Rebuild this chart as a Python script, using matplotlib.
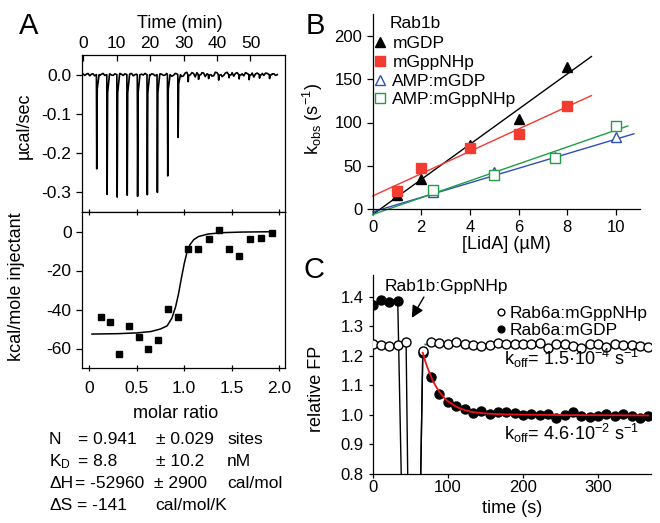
import numpy as np
import matplotlib
matplotlib.use("Agg")
import matplotlib.pyplot as plt

plt.rcParams['font.family'] = ['Liberation Sans', 'DejaVu Sans']
plt.rcParams['mathtext.fontset'] = 'custom'
plt.rcParams['mathtext.rm'] = 'Liberation Sans'
plt.rcParams['mathtext.it'] = 'Liberation Sans:italic'
plt.rcParams['mathtext.bf'] = 'Liberation Sans:bold'
plt.rcParams['mathtext.default'] = 'regular'
plt.rcParams['axes.unicode_minus'] = False
plt.rcParams['axes.linewidth'] = 0.9
plt.rcParams['xtick.major.width'] = 0.9
plt.rcParams['ytick.major.width'] = 0.9

# ---------------- Panel A: ITC raw trace ----------------
# baseline samples at whole minutes and at half minutes
base_t = list(range(0, 59))
base_dp = [0.002, 0.001, -0.003, 0.002, 0.0, -0.002, 0.003, -0.001, 0.002, -0.002,
           0.001, 0.003, -0.002, 0.0, 0.002, -0.003, 0.001, 0.002, -0.001, 0.003,
           -0.002, 0.001, 0.0, 0.002, -0.002, 0.003, 0.001, -0.002, 0.002, 0.004,
           -0.003, 0.006, -0.002, 0.003, 0.005, -0.004, 0.004, 0.002, 0.006, -0.003,
           0.005, 0.003, -0.002, 0.006, 0.002, -0.004, 0.005, 0.004, -0.003, 0.003,
           0.002, -0.006, 0.004, 0.002, -0.002, 0.003, 0.001, 0.002, 0.0]
half_t = [t + 0.5 for t in range(0, 58)]
half_dp = [-0.002, 0.003, 0.001, -0.003, 0.002, 0.001, -0.002, 0.003, -0.001, 0.002,
           -0.003, 0.001, 0.002, -0.002, 0.003, 0.0, -0.002, 0.001, 0.003, -0.002,
           0.002, -0.003, 0.002, 0.001, -0.001, 0.002, -0.004, 0.003, -0.002, -0.005,
           0.004, -0.004, 0.005, -0.006, 0.002, 0.005, -0.005, 0.003, -0.004, 0.006,
           -0.003, -0.005, 0.004, -0.002, 0.005, 0.003, -0.004, 0.002, 0.005, -0.004,
           0.004, 0.002, -0.005, 0.003, 0.004, -0.003, 0.002, -0.002]
inj_t = [4.0, 7.1, 10.1, 13.1, 16.2, 19.1, 22.1, 25.2, 28.3,
         31.3, 34.4, 37.4, 40.4, 43.5, 46.5, 49.5, 52.6, 55.6]
inj_peak = [-0.240, -0.305, -0.312, -0.307, -0.310, -0.306, -0.300, -0.258, -0.160,
            -0.018, -0.012, -0.010, -0.014, -0.008, -0.011, -0.013, -0.009, -0.010]

# ---------------- Panel A: integrated heats ----------------
molar_ratio = [0.12, 0.22, 0.316, 0.418, 0.52, 0.62, 0.723, 0.832, 0.934,
               1.039, 1.144, 1.257, 1.362, 1.474, 1.579, 1.692, 1.807, 1.92]
heat = [-44.1, -46.2, -63.0, -48.7, -54.0, -60.3, -55.7, -39.8, -43.6,
        -8.9, -8.9, -3.9, 0.7, -9.0, -12.8, -3.9, -3.4, -0.7]
fit_ratio = [0.03, 0.3, 0.5, 0.65, 0.75, 0.82, 0.87, 0.91, 0.94, 0.97, 1.0,
             1.03, 1.06, 1.1, 1.15, 1.25, 1.4, 1.6, 1.94]
fit_heat = [-52.6, -52.4, -52.0, -51.3, -50.0, -48.4, -44.5, -38.5, -32.0, -24.0,
            -16.5, -10.5, -6.8, -4.2, -2.6, -1.3, -0.6, -0.3, -0.1]

# ---------------- Panel B: kobs vs LidA ----------------
lida_a = [1, 2, 4, 6, 8]
kobs_mgdp = [17, 35, 74, 104, 164]
kobs_mgppnhp = [21, 48, 71, 86.5, 119]
lida_b = [2.5, 5, 7.5, 10]
kobs_amp_mgdp = [20, 43, 60, 83]
kobs_amp_mgppnhp = [22, 40, 59, 96.5]
fit_mgdp_x, fit_mgdp_y = [0, 9], [-6, 176]
fit_mgppnhp_x, fit_mgppnhp_y = [0, 9], [15.4, 131]
fit_amp_mgdp_x, fit_amp_mgdp_y = [0, 10.75], [-3, 87]
fit_amp_mgppnhp_x, fit_amp_mgppnhp_y = [0, 10.5], [-6, 96]

# ---------------- Panel C: FP dissociation ----------------
t_pre_gdp = [0, 11.1, 22.2, 33.3, 39.5, 62.5, 66.6]
fp_pre_gdp = [1.373, 1.387, 1.382, 1.386, 0.6, 0.6, 1.21]
t_pre_gpp = [0, 11.1, 22.2, 33.3, 44.4, 47.5, 62.5, 66.6]
fp_pre_gpp = [1.240, 1.235, 1.234, 1.235, 1.246, 0.6, 0.6, 1.215]
t_post = [77.7, 88.8, 99.9, 111.0, 122.1, 133.2, 144.3, 155.4, 166.5, 177.6,
          188.7, 199.8, 210.9, 222.0, 233.1, 244.2, 255.3, 266.4, 277.5, 288.6,
          299.7, 310.8, 321.9, 333.0, 344.1, 355.2, 366.3]
fp_post_gdp = [1.128, 1.070, 1.045, 1.030, 1.019, 1.006, 1.013, 1.002, 1.008, 1.008,
               1.006, 1.000, 1.002, 1.000, 1.002, 0.989, 1.000, 1.008, 0.997, 0.994,
               0.997, 1.002, 0.997, 1.002, 0.997, 0.991, 0.997]
fp_post_gpp = [1.248, 1.243, 1.240, 1.248, 1.240, 1.235, 1.234, 1.235, 1.243, 1.240,
               1.240, 1.238, 1.240, 1.243, 1.226, 1.238, 1.238, 1.232, 1.226, 1.238,
               1.240, 1.228, 1.240, 1.235, 1.235, 1.232, 1.230]
fit_gpp_t, fit_gpp_fp = [70, 366], [1.238, 1.229]
fit_gdp_t = [66.6, 70, 75, 80, 85, 90, 95, 100, 110, 120, 130, 140, 155, 170,
             190, 220, 260, 300, 366]
fit_gdp_fp = [1.21, 1.18, 1.145, 1.115, 1.092, 1.073, 1.058, 1.046, 1.029, 1.018,
              1.011, 1.007, 1.004, 1.002, 1.001, 1.0, 0.999, 0.999, 0.998]

W, H = 660, 523


def box(l, t, r, b):
    return [l / W, 1 - b / H, (r - l) / W, (b - t) / H]


fig = plt.figure(figsize=(6.6, 5.23), dpi=100)

# ---- A top: raw heat trace
axA1 = fig.add_axes(box(82, 55, 285, 212))
tr_t, tr_y = [], []
for t, y in zip(base_t + half_t, base_dp + half_dp):
    if any(ti - 0.1 <= t <= ti + 0.8 for ti in inj_t):
        continue
    tr_t.append(t)
    tr_y.append(y)
for ti, d in zip(inj_t, inj_peak):
    tr_t += [ti, ti + 0.1, ti + 0.25, ti + 0.8]
    tr_y += [0.0, d, 0.15 * d, 0.0]
order = np.argsort(tr_t)
axA1.plot(np.array(tr_t)[order], np.array(tr_y)[order], color='black', lw=1.2)
axA1.set_xlim(-0.3, 60.3)
axA1.set_ylim(-0.35, 0.05)
axA1.set_yticks([0.0, -0.1, -0.2, -0.3])
axA1.set_yticklabels(['0.0', '-0.1', '-0.2', '-0.3'])
axA1.set_xticks([0, 10, 20, 30, 40, 50])
axA1.tick_params(axis='x', top=True, bottom=False, labeltop=True, labelbottom=False,
                 direction='in', length=4, pad=3, labelsize=12.5)
axA1.tick_params(axis='y', direction='out', length=4, labelsize=12.5)
axA1.xaxis.set_label_position('top')
axA1.set_xlabel('Time (min)', fontsize=13)
axA1.xaxis.set_label_coords(0.48, 1.17)
axA1.set_ylabel('µcal/sec', fontsize=13)
axA1.yaxis.set_label_coords(-0.241, 0.55)

# ---- A bottom: integrated heats
axA2 = fig.add_axes(box(82, 212, 285, 368))
axA2.plot(molar_ratio, heat, 's', color='black', ms=5)
axA2.plot(fit_ratio, fit_heat, color='black', lw=1.1)
axA2.set_xlim(-0.075, 2.06)
axA2.set_ylim(-70, 10)
axA2.set_xticks([0, 0.5, 1.0, 1.5, 2.0])
axA2.set_xticklabels(['0', '0.5', '1.0', '1.5', '2.0'])
axA2.set_yticks([0, -20, -40, -60])
axA2.tick_params(axis='x', top=True, direction='inout', length=5, pad=7, labelsize=12.5)
axA2.tick_params(axis='y', direction='out', length=4, labelsize=12.5)
axA2.set_xlabel('molar ratio', fontsize=13)
axA2.xaxis.set_label_coords(0.46, -0.235)
axA2.set_ylabel('kcal/mole injectant', fontsize=13)
axA2.yaxis.set_label_coords(-0.281, 0.52)

# ITC fit results
rows_y = [439, 462, 484, 506]
col1 = ['N', 'K$_D$', 'ΔH', 'ΔS']
col2 = ['= 0.941', '= 8.8', '= -52960', '= -141']
col3 = ['± 0.029', '± 10.2', '± 2900', 'cal/mol/K']
col4 = ['sites', 'nM', 'cal/mol', '']
col2_x = [78, 78, 75, 77]
col3_x = [156, 156, 154, 155]
for y, a, b, c, d, bx, cx in zip(rows_y, col1, col2, col3, col4, col2_x, col3_x):
    fig.text(49 / W, 1 - y / H, a, fontsize=12.5, va='center')
    fig.text(bx / W, 1 - y / H, b, fontsize=12.5, va='center')
    fig.text(cx / W, 1 - y / H, c, fontsize=12.5, va='center')
    fig.text(227 / W, 1 - y / H, d, fontsize=12.5, va='center')

# ---- B: kobs vs [LidA]
axB = fig.add_axes(box(372.7, 14, 640, 209.3))
for s in ['top', 'right']:
    axB.spines[s].set_visible(False)
axB.plot(fit_mgdp_x, fit_mgdp_y, color='black', lw=1, clip_on=False)
axB.plot(fit_mgppnhp_x, fit_mgppnhp_y, color='#f03a30', lw=1, clip_on=False)
axB.plot(fit_amp_mgdp_x, fit_amp_mgdp_y, color='#2f4fb8', lw=1, clip_on=False)
axB.plot(fit_amp_mgppnhp_x, fit_amp_mgppnhp_y, color='#1f9e46', lw=1, clip_on=False)
axB.plot(lida_a, kobs_mgdp, '^', color='black', ms=7.5, label='mGDP')
axB.plot(lida_a, kobs_mgppnhp, 's', color='#f23c32', ms=6.5, label='mGppNHp')
axB.plot(lida_b, kobs_amp_mgdp, '^', mfc='white', mec='#2f4fb8', mew=1, ms=7.5,
         label='AMP:mGDP')
axB.plot(lida_b, kobs_amp_mgppnhp, 's', mfc='white', mec='#1f9e46', mew=1, ms=6.5,
         label='AMP:mGppNHp')
axB.set_xlim(0, 11)
axB.set_ylim(0, 225)
axB.set_xticks([0, 2, 4, 6, 8, 10])
axB.set_yticks([0, 50, 100, 150, 200])
axB.tick_params(direction='out', length=4, labelsize=12)
axB.set_xlabel('[LidA] (µM)', fontsize=13)
axB.xaxis.set_label_coords(0.5, -0.135)
axB.set_ylabel('k$_{obs}$ (s$^{-1}$)', fontsize=13)
axB.yaxis.set_label_coords(-0.178, 0.46)
axB.text(0.065, 0.95, 'Rab1b', transform=axB.transAxes, fontsize=12.5, va='center')
axB.legend(loc='upper left', bbox_to_anchor=(0.002, 0.886), frameon=False,
           fontsize=12.5, handlelength=0.8, handletextpad=0.3, borderpad=0,
           borderaxespad=0, labelspacing=0.2, numpoints=1)

# ---- C: relative FP
axC = fig.add_axes(box(372.7, 275, 651, 474))
for s in ['top', 'right']:
    axC.spines[s].set_visible(False)
axC.plot(t_pre_gdp, fp_pre_gdp, color='black', lw=1)
axC.plot(t_pre_gpp, fp_pre_gpp, color='black', lw=1)
axC.plot(fit_gpp_t, fit_gpp_fp, color='#1a7a3a', lw=1.3, zorder=1)
axC.plot(fit_gdp_t, fit_gdp_fp, color='#e8141c', lw=1.3, zorder=4)
axC.plot(t_pre_gdp + t_post, fp_pre_gdp + fp_post_gdp, 'o', color='black', ms=6.5,
         ls='none', zorder=3, label='Rab6a:mGDP')
axC.plot(t_pre_gpp + t_post, fp_pre_gpp + fp_post_gpp, 'o', mfc='white', mec='black',
         mew=1, ms=6.5, ls='none', zorder=3, label='Rab6a:mGppNHp')
axC.set_xlim(0, 370)
axC.set_ylim(0.8, 1.473)
axC.set_xticks([0, 100, 200, 300])
axC.set_yticks([0.8, 0.9, 1.0, 1.1, 1.2, 1.3, 1.4])
axC.set_yticklabels(['0.8', '0.9', '1.0', '1.1', '1.2', '1.3', '1.4'])
axC.tick_params(direction='out', length=3, labelsize=12)
axC.tick_params(axis='x', pad=1)
axC.set_xlabel('time (s)', fontsize=13)
axC.xaxis.set_label_coords(0.5, -0.132)
axC.set_ylabel('relative FP', fontsize=13)
axC.yaxis.set_label_coords(-0.171, 0.43)
h, l = axC.get_legend_handles_labels()
axC.legend(h[::-1], l[::-1], loc='upper left', bbox_to_anchor=(0.447, 0.846),
           frameon=False, fontsize=12.5, handlelength=0.5, handletextpad=0.25,
           borderpad=0, borderaxespad=0, labelspacing=0.14, markerscale=0.75)
axC.annotate('Rab1b:GppNHp', xy=(52, 1.328), xytext=(16, 1.418), fontsize=12.5,
             va='baseline', ha='left',
             arrowprops=dict(arrowstyle='-|>', color='black', lw=1,
                             mutation_scale=18, shrinkA=0, shrinkB=0,
                             relpos=(0.33, 0.0)))
axC.text(174, 1.169, 'k$_{off}$= 1.5·10$^{-4}$ s$^{-1}$', fontsize=13, va='baseline')
axC.text(174, 0.915, 'k$_{off}$= 4.6·10$^{-2}$ s$^{-1}$', fontsize=13, va='baseline')

# panel letters
fig.text(29 / W, 1 - 26 / H, 'A', fontsize=21, ha='center', va='center')
fig.text(315 / W, 1 - 26 / H, 'B', fontsize=21, ha='center', va='center')
fig.text(314 / W, 1 - 270 / H, 'C', fontsize=21, ha='center', va='center')

fig.savefig('out.png', dpi=100)
